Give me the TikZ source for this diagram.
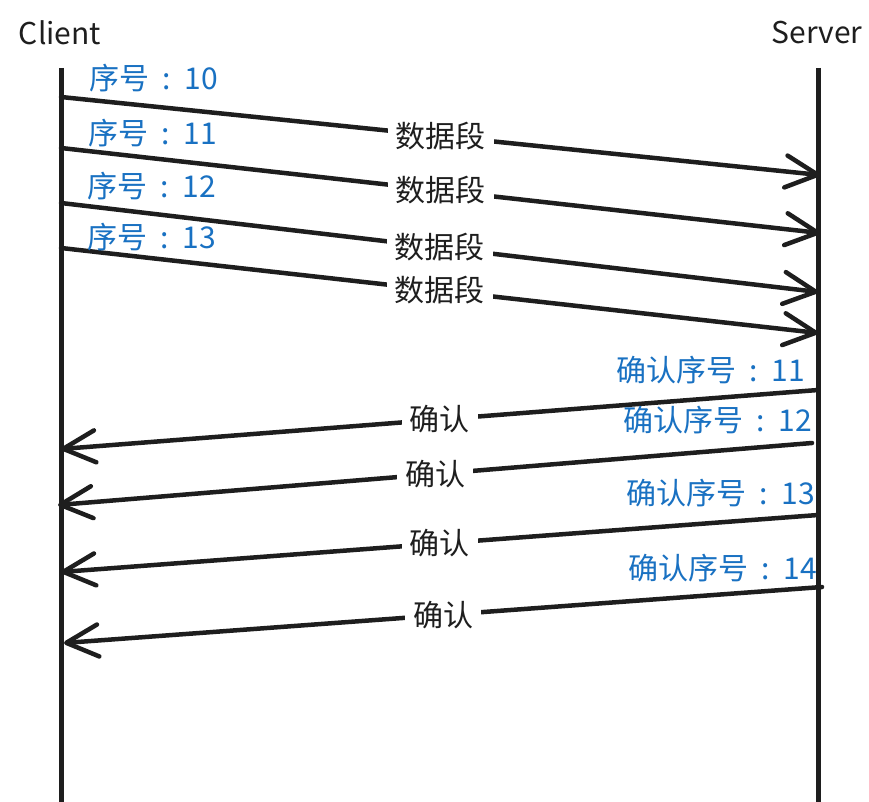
\documentclass[tikz,border=0pt]{standalone}
\usepackage{fontspec}
\setmainfont{Noto Sans CJK SC}
\usetikzlibrary{arrows.meta}
\definecolor{ink}{HTML}{1E1E1E}
\definecolor{blu}{HTML}{1971C2}
\newcommand{\sepc}{\hspace{0.45em}:\hspace{0.45em}}
\begin{document}
\begin{tikzpicture}[x=1pt,y=-1pt,
  life/.style={ink, line width=5pt},
  msg/.style={ink, line width=4.5pt, line cap=round, -{Straight Barb[round,length=32pt,width=32pt]}},
  lbl/.style={fill=white, text=ink, font=\fontsize{30}{34}\selectfont, inner xsep=8pt, inner ysep=1pt},
  seq/.style={text=blu, font=\fontsize{30}{34}\selectfont, inner sep=0pt},
  head/.style={text=ink, font=\fontsize{30}{34}\selectfont, inner sep=0pt}]
\useasboundingbox (0,0) rectangle (869,802);
\fill[white] (0,0) rectangle (869,802);
% headers
\node[head] (client) at (60,33) {Client};
\node[head] (server) at (817,33) {Server};
% lifelines
\coordinate (ctop) at (61,68);
\coordinate (cbot) at (61,802);
\coordinate (stop) at (818,68);
\coordinate (sbot) at (818,802);
\draw[life] (ctop) -- (cbot);
\draw[life] (stop) -- (sbot);
% data segments
\coordinate (d1s) at (61,97);  \coordinate (d1e) at (820,175);
\coordinate (d2s) at (61,148); \coordinate (d2e) at (820,233);
\coordinate (d3s) at (61,203); \coordinate (d3e) at (818,292);
\coordinate (d4s) at (61,248); \coordinate (d4e) at (818,333);
\draw[msg] (d1s) -- node[lbl] (l1) {数据段} (d1e);
\draw[msg] (d2s) -- node[lbl] (l2) {数据段} (d2e);
\draw[msg] (d3s) -- node[lbl] (l3) {数据段} (d3e);
\draw[msg] (d4s) -- node[lbl] (l4) {数据段} (d4e);
\node[seq, anchor=west] (s10) at (89,78) {序号\sepc 10};
\node[seq, anchor=west] (s11) at (88,133) {序号\sepc 11};
\node[seq, anchor=west] (s12) at (87,186) {序号\sepc 12};
\node[seq, anchor=west] (s13) at (87,237) {序号\sepc 13};
% acks
\coordinate (a1s) at (818,390); \coordinate (a1e) at (61,449);
\coordinate (a2s) at (812,443); \coordinate (a2e) at (58,505);
\coordinate (a3s) at (818,515); \coordinate (a3e) at (61,572);
\coordinate (a4s) at (822,587); \coordinate (a4e) at (64,643);
\draw[msg] (a1s) -- node[lbl] (k1) {确认} (a1e);
\draw[msg] (a2s) -- node[lbl] (k2) {确认} (a2e);
\draw[msg] (a3s) -- node[lbl] (k3) {确认} (a3e);
\draw[msg] (a4s) -- node[lbl] (k4) {确认} (a4e);
\node[seq, anchor=east] (r11) at (805,370) {确认序号\sepc 11};
\node[seq, anchor=east] (r12) at (812,420) {确认序号\sepc 12};
\node[seq, anchor=east] (r13) at (815,493) {确认序号\sepc 13};
\node[seq, anchor=east] (r14) at (817,568) {确认序号\sepc 14};
\end{tikzpicture}
\end{document}
